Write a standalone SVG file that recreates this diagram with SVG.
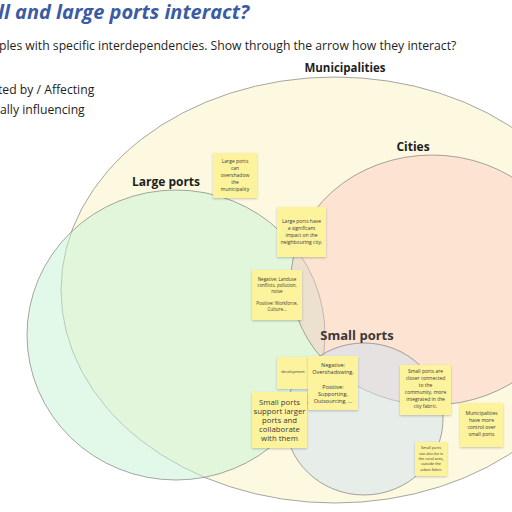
<svg xmlns="http://www.w3.org/2000/svg" width="512" height="512" viewBox="0 0 512 512">
<defs>
<filter id="sh" x="-20%" y="-20%" width="140%" height="150%"><feDropShadow dx="0" dy="1" stdDeviation="0.8" flood-color="#000" flood-opacity="0.22"/></filter>
<style>
.set{stroke:#808080;stroke-width:0.7}
.lbl{font-family:"Open Sans","Noto Sans",sans-serif;font-weight:700;fill:#1e1e1e;text-anchor:middle}
.note{fill:#fdf39c;filter:url(#sh)}
.nt{font-family:"Open Sans","Noto Sans",sans-serif;fill:#3a3a3a;text-anchor:middle}
.hd{font-family:"Open Sans","Noto Sans",sans-serif;fill:#1e1e1e;font-size:12.2px}
</style>
</defs>
<rect width="512" height="512" fill="#ffffff"/>
<g id="header">
<text x="-2" y="19" font-family="'Open Sans','Noto Sans',sans-serif" font-size="20" font-weight="700" font-style="italic" fill="#3b5ba5">ll and large ports interact?</text>
<text class="hd" x="-1" y="50">ples with specific interdependencies. Show through the arrow how they interact?</text>
<text class="hd" x="-2" y="94">ted by / Affecting</text>
<text class="hd" x="0" y="114">ally influencing</text>
</g>
<g id="municipalities">
<ellipse class="set" cx="335" cy="290" rx="274" ry="213" fill="#fdf9e0"/>
<text class="lbl" x="345" y="72" font-size="11.5">Municipalities</text>
</g>
<g id="large-ports">
<ellipse class="set" cx="176" cy="335" rx="149" ry="145" fill="rgb(198,244,214)" fill-opacity="0.5"/>
<text class="lbl" x="166" y="186" font-size="12">Large ports</text>
</g>
<g id="cities">
<ellipse class="set" cx="432" cy="280" rx="141" ry="125" fill="rgb(250,200,192)" fill-opacity="0.45"/>
<text class="lbl" x="413" y="151" font-size="12">Cities</text>
</g>
<g id="small-ports">
<ellipse class="set" cx="364" cy="419" rx="79" ry="76" fill="rgb(210,226,242)" fill-opacity="0.5"/>
<text class="lbl" x="357" y="340" font-size="13" style="fill:#3d3838">Small ports</text>
</g>
<g id="connectors"></g>
<g id="note-overshadow">
<rect class="note" x="213" y="153" width="44" height="45"/>
<text class="nt" font-size="5"><tspan x="235" y="162.5">Large ports</tspan><tspan x="235" y="169.5">can</tspan><tspan x="235" y="176.8">overshadow</tspan><tspan x="235" y="184">the</tspan><tspan x="235" y="191">municipality</tspan></text>
</g>
<g id="note-impact">
<rect class="note" x="277" y="207" width="49" height="50"/>
<text class="nt" font-size="5"><tspan x="301.5" y="222.5">Large ports have</tspan><tspan x="301.5" y="229.5">a significant</tspan><tspan x="301.5" y="236.5">impact on the</tspan><tspan x="301.5" y="243.5">neighbouring city.</tspan></text>
</g>
<g id="note-landuse">
<rect class="note" x="252" y="270" width="50" height="50"/>
<text class="nt" font-size="4.5"><tspan x="277" y="281">Negative: Landuse</tspan><tspan x="277" y="287">conflicts, pollution,</tspan><tspan x="277" y="293">noise</tspan><tspan x="277" y="305">Positive: Workforce,</tspan><tspan x="277" y="311">Culture...</tspan></text>
</g>
<g id="note-development">
<rect class="note" x="277" y="357" width="35" height="32"/>
<text class="nt" font-size="3.8" x="293" y="373">development</text>
</g>
<g id="note-overshadowing">
<rect class="note" x="308" y="356" width="50" height="54"/>
<text class="nt" font-size="5.5"><tspan x="333" y="367">Negative:</tspan><tspan x="333" y="374">Overshadowing,</tspan><tspan x="333" y="388.7">Positive:</tspan><tspan x="333" y="395.7">Supporting,</tspan><tspan x="333" y="403">Outsourcing, ...</tspan></text>
</g>
<g id="note-support">
<rect class="note" x="252" y="392" width="55" height="56"/>
<text class="nt" font-size="7.8"><tspan x="279.5" y="404.7">Small ports</tspan><tspan x="279.5" y="413.7">support larger</tspan><tspan x="279.5" y="423">ports and</tspan><tspan x="279.5" y="432">collaborate</tspan><tspan x="279.5" y="441.3">with them</tspan></text>
</g>
<g id="note-community">
<rect class="note" x="400" y="365" width="51" height="50"/>
<text class="nt" font-size="5"><tspan x="425.5" y="373">Small ports are</tspan><tspan x="425.5" y="380">closer connected</tspan><tspan x="425.5" y="387">to the</tspan><tspan x="425.5" y="394">community, more</tspan><tspan x="425.5" y="401">integrated in the</tspan><tspan x="425.5" y="408">city fabric.</tspan></text>
</g>
<g id="note-control">
<rect class="note" x="460" y="403" width="43" height="44"/>
<text class="nt" font-size="5"><tspan x="481.5" y="415">Municipalities</tspan><tspan x="481.5" y="422">have more</tspan><tspan x="481.5" y="429">control over</tspan><tspan x="481.5" y="436">small ports</tspan></text>
</g>
<g id="note-rural">
<rect class="note" x="415" y="442" width="32" height="34"/>
<text class="nt" font-size="3.8"><tspan x="431" y="449">Small ports</tspan><tspan x="431" y="454.5">can also be in</tspan><tspan x="431" y="460">the rural area,</tspan><tspan x="431" y="465.3">outside the</tspan><tspan x="431" y="470.5">urban fabric</tspan></text>
</g>
</svg>
